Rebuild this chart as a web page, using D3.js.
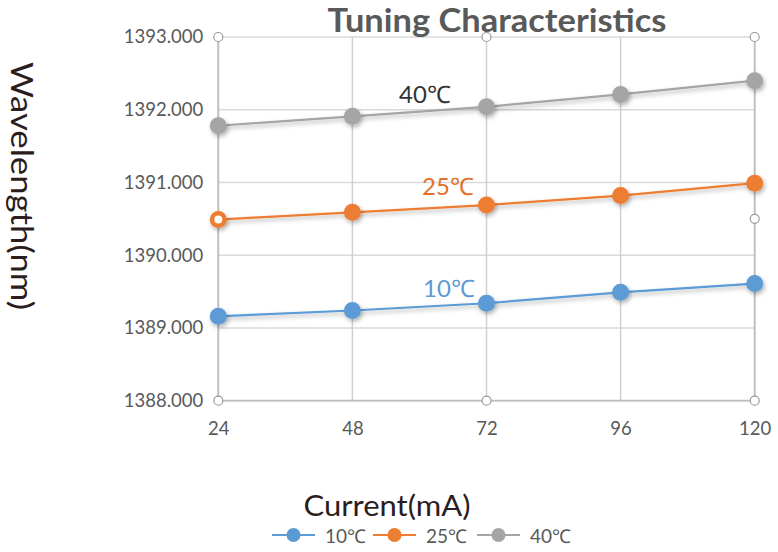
<!DOCTYPE html>
<html>
<head>
<meta charset="utf-8">
<script src="https://cdn.jsdelivr.net/npm/d3@7"></script>
<style>
  html, body { margin: 0; padding: 0; background: #fff; }
  svg { display: block; }
  text { font-family: Lato, "Liberation Sans", sans-serif; }
</style>
</head>
<body>
<svg id="chart" width="778" height="552"></svg>
<script>
const currents = [24, 48, 72, 96, 120];
const seriesNames = ["10℃", "25℃", "40℃"];
const values10 = [1389.16, 1389.24, 1389.34, 1389.49, 1389.61];
const values25 = [1390.49, 1390.59, 1390.69, 1390.82, 1390.99];
const values40 = [1391.78, 1391.91, 1392.04, 1392.21, 1392.40];
const yTicks = [1388, 1389, 1390, 1391, 1392, 1393];
const colors = ["#5B9BD5", "#ED7D31", "#A5A5A5"];
const labelColors = ["#5B9BD5", "#E0702A", "#333333"];
// selection-handle circles visible in the picture (current, wavelength)
const handleX = [24, 72, 120, 24, 72, 120, 120];
const handleY = [1393, 1393, 1393, 1388, 1388, 1388, 1390.5];

const series = [values10, values25, values40].map((v, i) => ({
  name: seriesNames[i], color: colors[i], labelColor: labelColors[i],
  pts: currents.map((c, j) => ({ x: c, y: v[j] }))
}));

const svg = d3.select("#chart");
const x = d3.scaleLinear().domain([24, 120]).range([218.3, 754.7]);
const y = d3.scaleLinear().domain([1388, 1393]).range([400.7, 37]);

const defs = svg.append("defs");
const f = defs.append("filter").attr("id", "shadow").attr("x", "-50%").attr("y", "-50%").attr("width", "200%").attr("height", "200%");
f.append("feDropShadow").attr("dx", 1.5).attr("dy", 2.5).attr("stdDeviation", 2).attr("flood-color", "#000").attr("flood-opacity", 0.3);

// gridlines
const g = svg.append("g");
g.selectAll(".hg").data(yTicks).join("line")
  .attr("x1", x(24)).attr("x2", x(120))
  .attr("y1", d => y(d)).attr("y2", d => y(d))
  .attr("stroke", "#D9D9D9").attr("stroke-width", 1.5);
g.selectAll(".vg").data(currents).join("line")
  .attr("x1", d => x(d)).attr("x2", d => x(d))
  .attr("y1", y(1393)).attr("y2", y(1388))
  .attr("stroke", "#D0D0D0").attr("stroke-width", 1.5);
// axes lines
g.append("line").attr("x1", x(24)).attr("x2", x(120)).attr("y1", y(1388)).attr("y2", y(1388)).attr("stroke", "#BFBFBF").attr("stroke-width", 1.8);
g.append("line").attr("x1", x(24)).attr("x2", x(24)).attr("y1", y(1393)).attr("y2", y(1388)).attr("stroke", "#BFBFBF").attr("stroke-width", 1.8);
g.append("line").attr("x1", x(120)).attr("x2", x(120)).attr("y1", y(1393)).attr("y2", y(1388)).attr("stroke", "#BFBFBF").attr("stroke-width", 1.8);

// y axis
const yAxis = d3.axisLeft(y).tickValues(yTicks).tickFormat(d3.format(".3f")).tickSize(0).tickPadding(15);
const ya = svg.append("g").attr("transform", `translate(${x(24)},0)`).call(yAxis);
ya.select(".domain").remove();
ya.selectAll("text").attr("font-size", 18.5).attr("fill", "#595959").style("font-family", "Lato, sans-serif");

// x axis
const xAxis = d3.axisBottom(x).tickValues(currents).tickFormat(d3.format("d")).tickSize(0).tickPadding(21);
const xa = svg.append("g").attr("transform", `translate(0,${y(1388)})`).call(xAxis);
xa.select(".domain").remove();
xa.selectAll("text").attr("font-size", 18.5).attr("fill", "#595959").style("font-family", "Lato, sans-serif");

// lines
const line = d3.line().x(d => x(d.x)).y(d => y(d.y));
const sg = svg.append("g");
series.forEach(s => {
  sg.append("path").datum(s.pts).attr("d", line).attr("fill", "none")
    .attr("stroke", s.color).attr("stroke-width", 2.2).attr("filter", "url(#shadow)");
});
series.forEach((s, i) => {
  sg.selectAll(".m" + i).data(s.pts).join("circle")
    .attr("cx", d => x(d.x)).attr("cy", d => y(d.y)).attr("r", 8.5)
    .attr("fill", s.color).attr("filter", "url(#shadow)");
});

// handle circles
svg.append("g").selectAll("circle").data(handleX.map((hx, i) => ({ x: hx, y: handleY[i] }))).join("circle")
  .attr("cx", d => x(d.x)).attr("cy", d => y(d.y)).attr("r", 4.5)
  .attr("fill", "#fff").attr("stroke", "#9a9a9a").attr("stroke-width", 1.2);
// first orange point shown as open handle
svg.append("circle").attr("cx", x(24)).attr("cy", y(values25[0])).attr("r", 5)
  .attr("fill", "#fff").attr("stroke", "#ED7D31").attr("stroke-width", 2);

// series labels
const labelPos = [[449, 1389.43], [448, 1390.83], [425, 1392.095]];
series.forEach((s, i) => {
  svg.append("text").attr("x", labelPos[i][0]).attr("y", y(labelPos[i][1]))
    .attr("text-anchor", "middle").attr("font-size", 24).attr("fill", s.labelColor)
    .text(s.name);
});

// title
svg.append("text").attr("x", 497).attr("y", 32).attr("text-anchor", "middle")
  .attr("font-size", 33).attr("font-weight", "bold").attr("fill", "#595959")
  .attr("textLength", 339).attr("lengthAdjust", "spacingAndGlyphs")
  .text("Tuning Characteristics");

// axis titles
svg.append("text").attr("transform", "translate(11,186) rotate(90)")
  .attr("text-anchor", "middle").attr("font-size", 30).attr("fill", "#2b1d1d")
  .attr("textLength", 248).attr("lengthAdjust", "spacingAndGlyphs")
  .text("Wavelength(nm)");
svg.append("text").attr("x", 387).attr("y", 516).attr("text-anchor", "middle")
  .attr("font-size", 28).attr("fill", "#2b1d1d")
  .attr("textLength", 167).attr("lengthAdjust", "spacingAndGlyphs")
  .text("Current(mA)");

// legend
const legX = [272, 373, 477];
const lg = svg.append("g");
series.forEach((s, i) => {
  const lx = legX[i];
  lg.append("line").attr("x1", lx).attr("x2", lx + 43).attr("y1", 535).attr("y2", 535)
    .attr("stroke", s.color).attr("stroke-width", 2);
  lg.append("circle").attr("cx", lx + 21.5).attr("cy", 535).attr("r", 7).attr("fill", s.color);
  lg.append("text").attr("x", lx + 53).attr("y", 543).attr("font-size", 19).attr("fill", "#595959").text(s.name);
});
</script>
</body>
</html>
